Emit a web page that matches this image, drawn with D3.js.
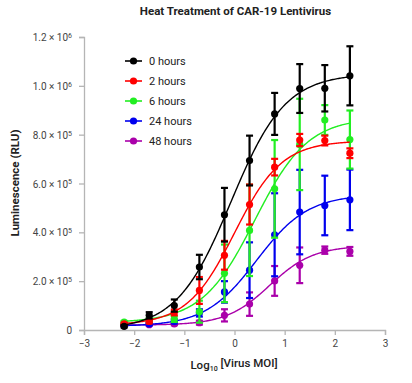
<!DOCTYPE html>
<html><head><meta charset="utf-8">
<script src="https://cdn.jsdelivr.net/npm/d3@7"></script>
<style>body{margin:0;background:#fff}svg{display:block;font-family:Roboto,"Noto Sans",sans-serif}</style>
</head><body><svg id="c" width="412" height="383"></svg>
<script>
const doses = [-2.2,-1.7,-1.2,-0.7,-0.2,0.3,0.8,1.3,1.8,2.3];
const seriesNames = ["0 hours","2 hours","6 hours","24 hours","48 hours"];
const seriesColors = ["#000000","#ff0000","#22ee22","#0000ee","#aa00aa"];
// means (RLU)
const mean0h  = [15000,60000,100000,258000,472000,694000,885000,989000,990000,1041000];
const mean2h  = [25000,35000,72000,162000,306000,514000,667000,778000,776000,724000];
const mean6h  = [32000,40000,45000,75000,232000,408000,578000,760000,860000,780000];
const mean24h = [20000,25000,35000,70000,156000,245000,390000,483000,510000,533000];
const mean48h = [18000,22000,25000,30000,60000,106000,201000,265000,327000,322000];
// error (± RLU)
const err0h  = [5000,13000,25000,50000,110000,102000,86000,100000,95000,121000];
const err2h  = [5000,8000,12000,55000,59000,82000,34000,25000,20000,20000];
const err6h  = [5000,8000,12000,45000,118000,187000,200000,187000,61000,119000];
const err24h = [3000,5000,8000,15000,44000,114000,170000,173000,122000,124000];
const err48h = [3000,4000,5000,8000,25000,48000,61000,73000,15000,18000];
// fitted 4PL parameters: bottom, top, logEC50, Hill slope
const fitBottom = [0,20000,30000,15000,20000];
const fitTop    = [1050000,775000,870000,555000,345000];
const fitEC50   = [-0.07,0.0,0.406,0.44,0.7];
const fitHill   = [0.8,0.92,0.823,0.85,1.0];
const xTicks = [-3,-2,-1,0,1,2,3];
const yTicks = [0,200000,400000,600000,800000,1000000,1200000];

const means = [mean0h,mean2h,mean6h,mean24h,mean48h];
const errs = [err0h,err2h,err6h,err24h,err48h];

const svg = d3.select("#c");
const x = d3.scaleLinear().domain([-3,3]).range([84,385]);
const y = d3.scaleLinear().domain([0,1200000]).range([330,37]);
const axisCol = "#b5b5b5", textCol = "#444";

// axes
const xa = svg.append("g").attr("transform","translate(0,330)")
  .call(d3.axisBottom(x).tickValues(xTicks).tickSize(5).tickPadding(5).tickFormat(d3.format("d")));
const ya = svg.append("g").attr("transform","translate(84,0)")
  .call(d3.axisLeft(y).tickValues(yTicks).tickSize(5).tickPadding(7).tickFormat(""));
[xa,ya].forEach(a=>{a.selectAll("path,line").attr("stroke",axisCol).attr("stroke-width",1.3);
  a.selectAll("text").attr("fill",textCol).attr("font-size",10).attr("font-family","Roboto");});
ya.selectAll(".tick").each(function(d){
  const t = d3.select(this).select("text").attr("dy","0.35em");
  if(d===0){t.text("0");return;}
  const e = Math.floor(Math.log10(d)+1e-9), m = d/Math.pow(10,e);
  t.text(null);
  t.append("tspan").text(m.toFixed(1)+" × 10");
  t.append("tspan").text(e).attr("font-size",7).attr("dy","-0.45em");
});

// curves, error bars, points
const order = [4,3,2,1,0];
const line = d3.line().x(d=>x(d[0])).y(d=>y(d[1])).curve(d3.curveLinear);
order.forEach(i=>{
  const col = seriesColors[i];
  const pts = d3.range(0,201).map(k=>{
    const xv = doses[0] + k*(doses[doses.length-1]-doses[0])/200;
    const yv = fitBottom[i] + (fitTop[i]-fitBottom[i])/(1+Math.pow(10,(fitEC50[i]-xv)*fitHill[i]));
    return [xv,yv];
  });
  const g = svg.append("g");
  g.append("path").datum(pts).attr("d",line).attr("fill","none").attr("stroke",col).attr("stroke-width",1.4);
  const data = doses.map((d,j)=>({x:d,m:means[i][j],e:errs[i][j]}));
  const eb = g.selectAll(".eb").data(data).enter().append("g");
  eb.append("line").attr("x1",d=>x(d.x)).attr("x2",d=>x(d.x)).attr("y1",d=>y(d.m-d.e)).attr("y2",d=>y(d.m+d.e))
    .attr("stroke",col).attr("stroke-width",2.2);
  ["+","-"].forEach(s=>{
    eb.append("line").attr("x1",d=>x(d.x)-3.5).attr("x2",d=>x(d.x)+3.5)
      .attr("y1",d=>y(s==="+"?d.m+d.e:d.m-d.e)).attr("y2",d=>y(s==="+"?d.m+d.e:d.m-d.e))
      .attr("stroke",col).attr("stroke-width",2.2);
  });
  g.selectAll("circle").data(data).enter().append("circle")
    .attr("cx",d=>x(d.x)).attr("cy",d=>y(d.m)).attr("r",3.6).attr("fill",col);
});

// legend
const lg = svg.append("g");
seriesNames.forEach((n,i)=>{
  const yy = 61 + i*20;
  lg.append("line").attr("x1",125).attr("x2",142).attr("y1",yy).attr("y2",yy).attr("stroke",seriesColors[i]).attr("stroke-width",1.6);
  lg.append("circle").attr("cx",133.5).attr("cy",yy).attr("r",3.6).attr("fill",seriesColors[i]);
  lg.append("text").attr("x",149).attr("y",yy).attr("dy","0.35em").attr("font-size",11).attr("fill","#222").text(n);
});

// title & labels
svg.append("text").attr("x",235.5).attr("y",15).attr("text-anchor","middle").attr("font-size",11.5)
  .attr("font-weight","bold").attr("fill","#222").text("Heat Treatment of CAR-19 Lentivirus");
svg.append("text").attr("transform","translate(19,183) rotate(-90)").attr("text-anchor","middle")
  .attr("font-size",11.5).attr("font-weight","bold").attr("fill","#222").text("Luminescence (RLU)");
const xl = svg.append("text").attr("x",234).attr("y",369).attr("text-anchor","middle")
  .attr("font-size",11.5).attr("font-weight",500).attr("fill","#222");
xl.append("tspan").text("Log");
xl.append("tspan").text("10").attr("font-size",7).attr("dy","0.35em");
xl.append("tspan").text(" [Virus MOI]").attr("dy","-0.35em");
</script></body></html>
